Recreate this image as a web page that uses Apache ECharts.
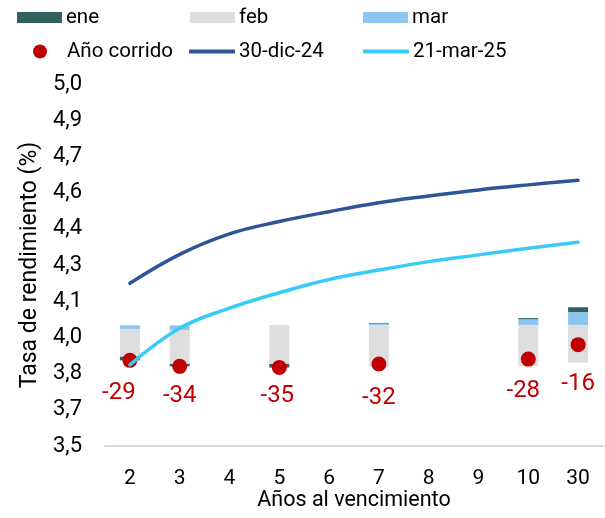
<!DOCTYPE html>
<html><head><meta charset="utf-8">
<script src="https://cdn.jsdelivr.net/npm/echarts@6/dist/echarts.min.js"></script>
<style>html,body{margin:0;padding:0;background:#fff}#c{width:605px;height:518px}</style>
</head><body><div id="c"></div>
<script>
// ---- data ----
const categories = ['2', '3', '4', '5', '6', '7', '8', '9', '10', '30'];
const ene = [-3, -2, null, -3, null, 0.5, null, null, 1, 4];
const feb = [-23, -28, null, -32, null, -34, null, null, -34, -31];
const mar = [-3, -4, null, 0.3, null, 1.5, null, null, 5, 11];
const anoCorrido = [-29, -34, null, -35, null, -32, null, null, -28, -16];
const curveDic24 = [4.174, 4.294, 4.379, 4.430, 4.471, 4.508, 4.536, 4.561, 4.582, 4.601];
const curveMar25 = [3.836, 3.988, 4.071, 4.135, 4.190, 4.229, 4.264, 4.292, 4.319, 4.344];

const FONT = 'Roboto';
const FS_LEG = 20.5, FS_XTICK = 21, FS_YTICK = 22, FS_XNAME = 21.5, FS_YNAME = 23, FS_LAB = 24;
const C = { ene: '#31625F', feb: '#DEDEDE', mar: '#8DC6EE', ytd: '#C00000', dic: '#2F5597', mar25: '#38CBF8' };

// manual label nudges (as placed in the original), keyed by category
const labelNudge = { '2': [-11, 3], '5': [-2, -1], '7': [0, 5], '10': [-5, 2], '30': [0, 10] };

const chart = echarts.init(document.getElementById('c'), null, { renderer: 'canvas' });

function lg(name, left, top, icon, w, h, padLeft) {
  return {
    data: [{ name: name, icon: icon }], left: left, top: top, padding: 0,
    itemWidth: w, itemHeight: h, selectedMode: false,
    textStyle: { fontFamily: FONT, fontSize: FS_LEG, color: '#000', padding: [0, 0, 0, padLeft || -1] }
  };
}

const option = {
  animation: false,
  backgroundColor: '#fff',
  textStyle: { fontFamily: FONT },
  legend: [
    lg('ene', 17, 7, 'rect', 45, 11),
    lg('feb', 190, 7, 'rect', 45, 11),
    lg('mar', 363, 7, 'rect', 45, 11),
    lg('Año corrido', 33, 41, 'circle', 14, 14, 15),
    lg('30-dic-24', 189, 41, 'roundRect', 46, 4),
    lg('21-mar-25', 363, 41, 'roundRect', 46, 4)
  ],
  grid: { left: 105, right: 2, top: 84, bottom: 72, containLabel: false, outerBoundsMode: 'none' },
  xAxis: {
    type: 'category', data: categories, boundaryGap: true,
    name: 'Años al vencimiento', nameLocation: 'middle', nameGap: 44, nameMoveOverlap: false,
    nameTextStyle: { fontFamily: FONT, fontSize: FS_XNAME, color: '#000' },
    axisLine: { show: true, onZero: false, lineStyle: { color: '#D9D9D9', width: 2 } },
    axisTick: { show: false },
    axisLabel: { fontFamily: FONT, fontSize: FS_XTICK, color: '#000', margin: 22 },
    splitLine: { show: false }
  },
  yAxis: [
    {
      type: 'value', min: 3.5, max: 5.0, interval: 0.15,
      name: 'Tasa de rendimiento (%)', nameLocation: 'middle', nameGap: 63, nameRotate: 90, nameMoveOverlap: false,
      nameTextStyle: { fontFamily: FONT, fontSize: FS_YNAME, color: '#000' },
      axisLine: { show: false }, axisTick: { show: false }, splitLine: { show: false },
      axisLabel: {
        fontFamily: FONT, fontSize: FS_YTICK, color: '#000', margin: 23,
        formatter: v => (Math.round(v * 10 + 1e-6) / 10).toFixed(1).replace('.', ',')
      }
    },
    { type: 'value', min: -100, max: 200, show: false, splitLine: { show: false } }
  ],
  series: [
    { name: 'mar', type: 'bar', stack: 'm', yAxisIndex: 1, data: mar, barWidth: 20, itemStyle: { color: C.mar }, z: 2 },
    { name: 'feb', type: 'bar', stack: 'm', yAxisIndex: 1, data: feb, barWidth: 20, itemStyle: { color: C.feb }, z: 2 },
    { name: 'ene', type: 'bar', stack: 'm', yAxisIndex: 1, data: ene, barWidth: 20, itemStyle: { color: C.ene }, z: 2 },
    {
      name: 'Año corrido', type: 'scatter', yAxisIndex: 1, symbol: 'circle', symbolSize: 15,
      itemStyle: { color: C.ytd, opacity: 1 }, z: 3,
      data: anoCorrido.map((v, i) => labelNudge[categories[i]] && v != null
        ? { value: v, label: { offset: labelNudge[categories[i]] } } : v),
      label: { show: true, position: 'bottom', distance: 10, fontFamily: FONT, fontSize: FS_LAB, color: C.ytd }
    },
    {
      name: '30-dic-24', type: 'line', yAxisIndex: 0, data: curveDic24, smooth: 0.4,
      showSymbol: false, symbol: 'none', lineStyle: { color: C.dic, width: 3.5, cap: 'round' },
      itemStyle: { color: C.dic }, z: 4
    },
    {
      name: '21-mar-25', type: 'line', yAxisIndex: 0, data: curveMar25, smooth: 0.4,
      showSymbol: false, symbol: 'none', lineStyle: { color: C.mar25, width: 3.5, cap: 'round' },
      itemStyle: { color: C.mar25 }, z: 4
    }
  ]
};
chart.setOption(option);
</script>
</body></html>
